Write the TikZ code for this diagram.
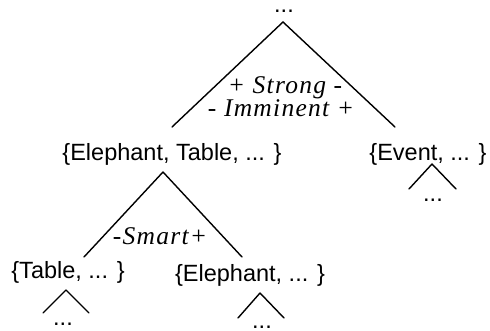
\documentclass[tikz,border=0pt]{standalone}
\usepackage{fontspec}
\setmainfont{Liberation Sans}
\newfontfamily\polefont{Liberation Serif}[LetterSpace=5]
\usepackage{tikz}

\begin{document}
\begin{tikzpicture}[x=1pt, y=-1pt, line width=1.4pt, line cap=round,
    set/.style={anchor=base, inner sep=0pt, font=\fontsize{23.5}{28}\selectfont},
    more/.style={anchor=base, inner sep=0pt, text height=4pt, text depth=0pt, font=\fontsize{23.5}{28}\selectfont},
    pole/.style={anchor=base, inner sep=0pt, font=\fontsize{25.5}{30}\selectfont\polefont\itshape}]

    \useasboundingbox (0,0) rectangle (490,331);

    \node[more] (Top) at (284,13)
    {...};

    \node[set] (ElTa) at (172,161)
    {\{Elephant, Table, ... \}};

    \node[set] (Ev) at (428,161)
    {\{Event, ... \}};

    \node[set] (Ta) at (68,279)
    {\{Table, ... \}};

    \node[set] (El) at (250,281)
    {\{Elephant, ... \}};

    \node[more] (EvMore) at (433,202)
    {...};

    \node[more] (TaMore) at (63,325)
    {...};

    \node[more] (ElMore) at (262,328)
    {...};

    % labels on the triangles
    \node[pole] (Strong) at (285,94)
    {+ Strong -};

    \node[pole] (Imminent) at (281,117)
    {- Imminent +};

    \node[pole] (Smart) at (160,244)
    {-Smart+};

    % tips and feet of the triangles
    \coordinate (TopTip) at (283,22);
    \coordinate (TopL) at (172,127);
    \coordinate (TopR) at (395,127);

    \coordinate (ElTaTip) at (163,172);
    \coordinate (ElTaL) at (84,257);
    \coordinate (ElTaR) at (242,257);

    \coordinate (EvTip) at (432,164);
    \coordinate (EvL) at (409,189);
    \coordinate (EvR) at (456,189);

    \coordinate (TaTip) at (66,290);
    \coordinate (TaL) at (43,313);
    \coordinate (TaR) at (89,313);

    \coordinate (ElTip) at (260,293);
    \coordinate (ElL) at (238,318);
    \coordinate (ElR) at (284,318);

    \path[draw]
    {
        (TopTip) edge (TopL)
        (TopTip) edge (TopR)

        (ElTaTip) edge (ElTaL)
        (ElTaTip) edge (ElTaR)

        (EvTip) edge (EvL)
        (EvTip) edge (EvR)

        (TaTip) edge (TaL)
        (TaTip) edge (TaR)

        (ElTip) edge (ElL)
        (ElTip) edge (ElR)
    };
\end{tikzpicture}
\end{document}
